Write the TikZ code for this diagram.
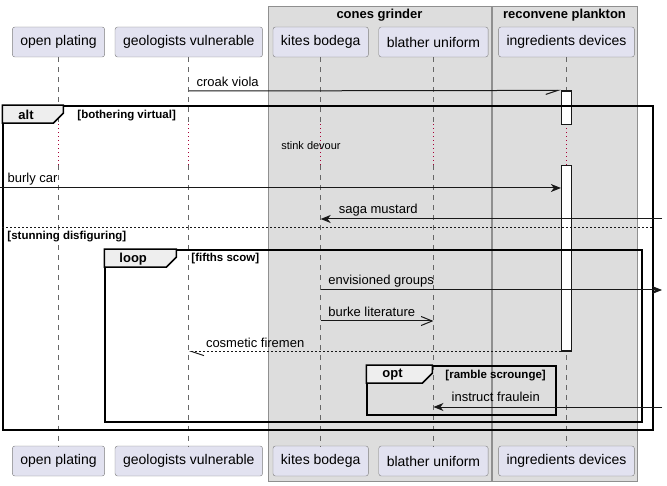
\documentclass[tikz,border=0pt]{standalone}
\usepackage{fontspec}
\setmainfont{Liberation Sans}
\usetikzlibrary{arrows.meta,positioning,calc}
\definecolor{partfill}{HTML}{E2E2F0}
\definecolor{partline}{HTML}{7F7F7F}
\definecolor{boxfill}{HTML}{DDDDDD}
\definecolor{boxline}{HTML}{8F8F8F}
\definecolor{lifegray}{HTML}{666666}
\definecolor{delayred}{HTML}{A80036}
\definecolor{tabfill}{HTML}{EEEEEE}
\definecolor{msgline}{HTML}{181818}
\tikzstyle{participant} = [draw=partline, fill=partfill, rounded corners=2.5pt, minimum height=30pt, inner xsep=8pt, font=\fontsize{14}{16}\selectfont]
\tikzstyle{boxgroup} = [draw=boxline, fill=boxfill, inner sep=0pt]
\tikzstyle{grouptitle} = [inner sep=0pt, font=\fontsize{13}{15}\selectfont\bfseries]
\tikzstyle{lifeline} = [draw=lifegray, line width=0.8pt, dash pattern=on 5pt off 5pt]
\tikzstyle{delayline} = [draw=delayred, line width=0.8pt, dash pattern=on 1pt off 3pt]
\tikzstyle{activation} = [draw=msgline, fill=white, line width=1.2pt, minimum width=10pt, inner sep=0pt]
\tikzstyle{frame} = [draw=black, line width=1.5pt, inner sep=0pt]
\tikzstyle{tab} = [draw=black, fill=tabfill, line width=1.5pt]
\tikzstyle{tablabel} = [anchor=west, inner sep=0pt, font=\fontsize{13}{15}\selectfont\bfseries]
\tikzstyle{guard} = [anchor=west, inner sep=0pt, font=\fontsize{11.5}{13}\selectfont\bfseries]
\tikzstyle{separator} = [draw=msgline, line width=0.8pt, dash pattern=on 2pt off 2pt]
\tikzstyle{msglabel} = [anchor=west, inner sep=0pt, font=\fontsize{13}{15}\selectfont]
\tikzstyle{Arrow} = [-{Stealth[length=10pt, width=8pt, inset=3pt]}, draw=msgline, line width=1pt]
\tikzstyle{OpenArrow} = [-{Straight Barb[length=11pt, width=9pt]}, draw=msgline, line width=1pt]
\tikzstyle{HalfBelowE} = [-{Straight Barb[right, length=12pt, width=8pt]}, draw=msgline, line width=1pt]
\tikzstyle{HalfBelowW} = [-{Straight Barb[left, length=12pt, width=8pt]}, draw=msgline, line width=1pt]
\tikzstyle{Reply} = [dash pattern=on 2pt off 2pt]

\begin{document}
\begin{tikzpicture}[x=1pt, y=-1pt]
            \useasboundingbox (0,0) rectangle (667,486);
            %%%%% Boxes %%%%%
            \node (cones) [boxgroup, minimum width=222.4pt, minimum height=475pt] at (379.5,244) {};
            \node (plankton) [boxgroup, minimum width=144.4pt, minimum height=475pt] at (564.5,244) {};
            \node (conesT) [grouptitle] at ($(cones.north)+(0,8.5)$) {cones grinder};
            \node (planktonT) [grouptitle] at ($(plankton.north)+(0,8.5)$) {reconvene plankton};
            %%%%% Participants %%%%%
            \draw (58.5,42) node[participant] (openT) {open plating};
            \node (geoT) [participant, right=10pt of openT] {geologists vulnerable};
            \node (kitesT) [participant, right=10pt of geoT] {kites bodega};
            \node (blatherT) [participant, right=10pt of kitesT] {blather uniform};
            \node (ingrT) [participant, right=10pt of blatherT] {ingredients devices};
            \node (openB) [participant] at ($(openT)+(0,419)$) {open plating};
            \node (geoB) [participant] at ($(geoT)+(0,419)$) {geologists vulnerable};
            \node (kitesB) [participant] at ($(kitesT)+(0,419)$) {kites bodega};
            \node (blatherB) [participant] at ($(blatherT)+(0,419)$) {blather uniform};
            \node (ingrB) [participant] at ($(ingrT)+(0,419)$) {ingredients devices};
            %%%%% Lifelines %%%%%
            \foreach \p in {open,geo,kites,blather,ingr} {
                \coordinate (\p D1) at (\p T |- 0,124.5);
                \coordinate (\p D2) at (\p T |- 0,165.5);
                \draw [lifeline] (\p T.south) -- (\p D1);
                \draw [delayline] (\p D1) -- (\p D2);
                \draw [lifeline] (\p D2) -- (\p B.north);
            }
            \node (delay) [font=\fontsize{11}{13}\selectfont, inner sep=0pt] at (311,146) {stink devour};
            %%%%% Activations %%%%%
            \node (act1) [activation, minimum height=33.5pt] at (ingrT |- 0,107.75) {};
            \node (act2) [activation, minimum height=185.3pt] at (ingrT |- 0,258.35) {};
            %%%%% alt %%%%%
            \node (alt) [frame, minimum width=650pt, minimum height=324pt] at (328,268) {};
            \draw [tab] (alt.north west) -- ++(61,0) -- ++(0,8) -- ++(-10,10) -- ++(-51,0) -- cycle;
            \node (altT) [tablabel] at ($(alt.north west)+(16,9.5)$) {alt};
            \node (altG1) [guard] at ($(alt.north west)+(75,10)$) {[bothering virtual]};
            \draw [separator] ($(alt.north west)+(0,122.5)$) -- ($(alt.north east)+(0,122.5)$);
            \node (altG2) [guard] at ($(alt.north west)+(5,131)$) {[stunning disfiguring]};
            %%%%% loop %%%%%
            \node (loop) [frame, minimum width=537pt, minimum height=172pt] at (373.5,336) {};
            \draw [tab] (loop.north west) -- ++(72,0) -- ++(0,8) -- ++(-10,10) -- ++(-62,0) -- cycle;
            \node (loopT) [tablabel] at ($(loop.north west)+(15,9.5)$) {loop};
            \node (loopG) [guard] at ($(loop.north west)+(87,9.5)$) {[fifths scow]};
            %%%%% opt %%%%%
            \node (opt) [frame, minimum width=189pt, minimum height=49pt] at (461.5,390.5) {};
            \draw [tab] (opt.north west) -- ++(66,0) -- ++(0,8) -- ++(-10,10) -- ++(-56,0) -- cycle;
            \node (optT) [tablabel] at ($(opt.north west)+(16,9.5)$) {opt};
            \node (optG) [guard] at ($(opt.north west)+(79,10)$) {[ramble scrounge]};
            %%%%% Messages %%%%%
            \coordinate (croakS) at (geoT |- 0,91);
            \draw [HalfBelowE] (croakS) -- (act1.north west);
            \node (croakL) [msglabel] at ($(croakS)+(7.5,-9.5)$) {croak viola};
            \coordinate (burlyS) at (0,188);
            \draw [Arrow] (burlyS) -- (act2.west |- burlyS);
            \node (burlyL) [msglabel] at ($(burlyS)+(7.5,-8.5)$) {burly car};
            \coordinate (sagaS) at (662,219);
            \coordinate (sagaE) at (kitesT |- sagaS);
            \draw [Arrow] (sagaS) -- (sagaE);
            \node (sagaL) [msglabel] at ($(sagaE)+(18,-9)$) {saga mustard};
            \coordinate (envS) at (kitesT |- 0,290);
            \coordinate (envE) at (662,290);
            \draw [Arrow] (envS) -- (envE);
            \node (envL) [msglabel] at ($(envS)+(7.5,-9)$) {envisioned groups};
            \coordinate (burkeS) at (kitesT |- 0,321);
            \coordinate (burkeE) at (blatherT |- 0,321);
            \draw [OpenArrow] (burkeS) -- (burkeE);
            \node (burkeL) [msglabel] at ($(burkeS)+(7.5,-9.5)$) {burke literature};
            \coordinate (cosmE) at (geoT |- act2.south);
            \draw [HalfBelowW, Reply] (act2.south west) -- (cosmE);
            \node (cosmL) [msglabel] at ($(cosmE)+(17,-8.5)$) {cosmetic firemen};
            \coordinate (instS) at (662,407);
            \coordinate (instE) at (blatherT |- instS);
            \draw [Arrow] (instS) -- (instE);
            \node (instL) [msglabel] at ($(instE)+(18,-10)$) {instruct fraulein};
        \end{tikzpicture}
\end{document}
